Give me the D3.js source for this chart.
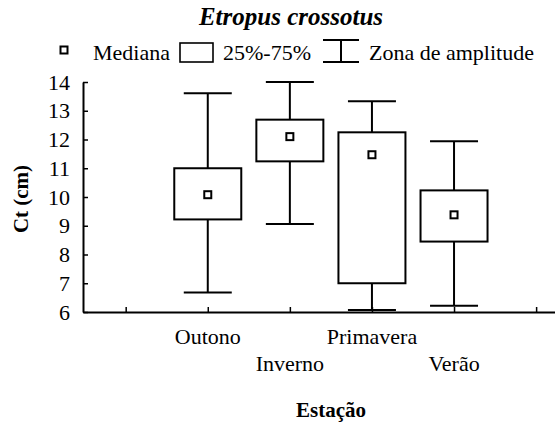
<!DOCTYPE html>
<html>
  <head>
    <meta charset="utf-8" />
    <script src="https://d3js.org/d3.v7.min.js"></script>
    <title>Etropus crossotus</title>
    <style>
        body { margin: 0; background: #fff; }
        svg { display: block; }
        svg text { font-family: "Liberation Serif", "Times New Roman", Times, "DejaVu Serif", serif !important; }
    </style>
  </head>
  <body>

    <svg id="chart" width="555" height="426"></svg>

    <script>
        // data
        var seasons = ["Outono", "Inverno", "Primavera", "Verão"];
        var minValues = [6.68, 9.06, 6.07, 6.22];
        var q1Values = [9.22, 11.24, 7.0, 8.45];
        var medianValues = [10.08, 12.10, 11.47, 9.38];
        var q3Values = [11.0, 12.69, 12.25, 10.23];
        var maxValues = [13.61, 14.0, 13.33, 11.94];
        var yTicks = [6, 7, 8, 9, 10, 11, 12, 13, 14];
        var xTicks = [0, 1, 2, 3, 4, 5];

        var serif = "'Liberation Serif', 'Times New Roman', Times, 'DejaVu Serif', serif";
        var svg = d3.select("#chart");

        var x = d3.scaleLinear().domain([-0.52, 5.23]).range([83, 555]);
        var y = d3.scaleLinear().domain([6, 14]).range([312, 82]);

        var boxes = seasons.map(function(s, i){
            return {
                name: s, pos: i + 1,
                min: minValues[i], q1: q1Values[i], med: medianValues[i],
                q3: q3Values[i], max: maxValues[i]
            };
        });

        // title
        svg.append("text")
            .attr("x", 291).attr("y", 25)
            .attr("text-anchor", "middle")
            .attr("font-family", serif)
            .style("font-size", "25px")
            .style("font-weight", "bold")
            .style("font-style", "italic")
            .text("Etropus crossotus");

        // legend
        var leg = svg.append("g").attr("class", "legend").attr("font-family", serif);
        leg.append("rect")
            .attr("x", 60.5).attr("y", 46.5).attr("width", 7).attr("height", 7)
            .attr("fill", "#fff").attr("stroke", "#000").attr("stroke-width", 2);
        leg.append("text").attr("x", 93).attr("y", 60).style("font-size", "22px").text("Mediana");
        leg.append("rect")
            .attr("x", 180).attr("y", 43).attr("width", 33).attr("height", 19)
            .attr("fill", "none").attr("stroke", "#000").attr("stroke-width", 1.6);
        leg.append("text").attr("x", 223).attr("y", 60).style("font-size", "22px").text("25%-75%");
        leg.append("path")
            .attr("d", "M323,40H359M341,40V62M323,62H359")
            .attr("fill", "none").attr("stroke", "#000").attr("stroke-width", 2);
        leg.append("text").attr("x", 369).attr("y", 60).style("font-size", "22px").text("Zona de amplitude");

        // y axis
        var yAxis = d3.axisLeft(y).tickValues(yTicks).tickSize(-5).tickSizeOuter(0).tickPadding(13);
        svg.append("g")
            .attr("transform", "translate(83,0)")
            .call(yAxis)
            .call(function(g){
                g.attr("font-family", serif).attr("font-size", 22);
                g.select(".domain").attr("stroke-width", 2);
                g.selectAll(".tick line").attr("stroke-width", 1.5);
                g.selectAll(".tick text").attr("fill", "#000");
            });

        // x axis
        var xAxis = d3.axisBottom(x).tickValues(xTicks).tickSize(-5).tickSizeOuter(0).tickFormat("");
        svg.append("g")
            .attr("transform", "translate(0,312)")
            .call(xAxis)
            .call(function(g){
                g.select(".domain").attr("stroke-width", 2);
                g.selectAll(".tick line").attr("stroke-width", 1.5);
            });

        // season labels, alternating rows
        svg.selectAll(".season")
            .data(boxes)
            .enter().append("text")
            .attr("class", "season")
            .attr("x", function(d){ return x(d.pos); })
            .attr("y", function(d, i){ return i % 2 === 0 ? 344 : 371; })
            .attr("text-anchor", "middle")
            .attr("font-family", serif)
            .style("font-size", "22px")
            .text(function(d){ return d.name; });

        // axis titles
        svg.append("text")
            .attr("x", 331).attr("y", 417)
            .attr("text-anchor", "middle")
            .attr("font-family", serif)
            .style("font-size", "21px").style("font-weight", "bold")
            .text("Estação");

        svg.append("text")
            .attr("transform", "translate(28,199) rotate(-90)")
            .attr("text-anchor", "middle")
            .attr("font-family", serif)
            .style("font-size", "21px").style("font-weight", "bold")
            .text("Ct (cm)");

        // boxes
        var boxW = 67, capW = 48;
        var g = svg.selectAll(".box")
            .data(boxes)
            .enter().append("g")
            .attr("class", "box");

        g.append("line")
            .attr("x1", function(d){ return x(d.pos); })
            .attr("x2", function(d){ return x(d.pos); })
            .attr("y1", function(d){ return y(d.max); })
            .attr("y2", function(d){ return y(d.min); })
            .attr("stroke", "#000").attr("stroke-width", 2);

        g.append("line")
            .attr("x1", function(d){ return x(d.pos) - capW / 2; })
            .attr("x2", function(d){ return x(d.pos) + capW / 2; })
            .attr("y1", function(d){ return y(d.max); })
            .attr("y2", function(d){ return y(d.max); })
            .attr("stroke", "#000").attr("stroke-width", 2);

        g.append("line")
            .attr("x1", function(d){ return x(d.pos) - capW / 2; })
            .attr("x2", function(d){ return x(d.pos) + capW / 2; })
            .attr("y1", function(d){ return y(d.min); })
            .attr("y2", function(d){ return y(d.min); })
            .attr("stroke", "#000").attr("stroke-width", 2);

        g.append("rect")
            .attr("x", function(d){ return x(d.pos) - boxW / 2; })
            .attr("y", function(d){ return y(d.q3); })
            .attr("width", boxW)
            .attr("height", function(d){ return y(d.q1) - y(d.q3); })
            .attr("fill", "#fff").attr("stroke", "#000").attr("stroke-width", 2);

        g.append("rect")
            .attr("x", function(d){ return x(d.pos) - 3.5; })
            .attr("y", function(d){ return y(d.med) - 3.5; })
            .attr("width", 7).attr("height", 7)
            .attr("fill", "#fff").attr("stroke", "#000").attr("stroke-width", 2);
    </script>

  </body>
</html>
